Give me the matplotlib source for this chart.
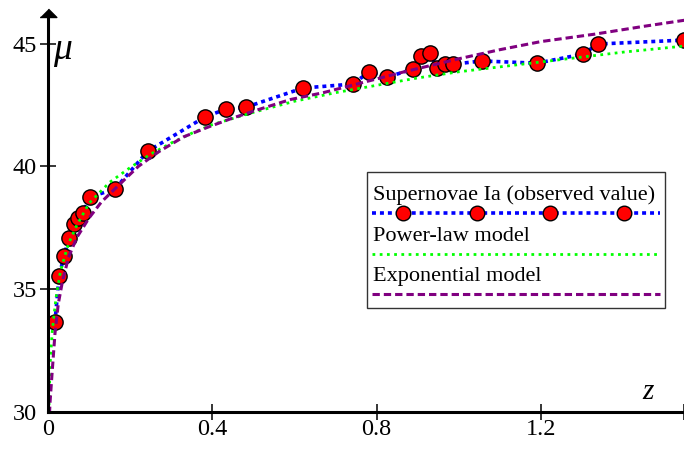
import numpy as np
from matplotlib import pyplot as plt
from matplotlib.patches import Rectangle
from matplotlib.lines import Line2D

plt.rcParams["font.family"] = ["Liberation Serif", "DejaVu Serif"]

# observed supernovae Ia (z, distance modulus)
z_obs = [0.017, 0.027, 0.039, 0.051, 0.063, 0.073, 0.085, 0.102, 0.163, 0.243,
         0.382, 0.433, 0.482, 0.621, 0.742, 0.781, 0.825, 0.889, 0.908, 0.930,
         0.947, 0.966, 0.986, 1.056, 1.190, 1.302, 1.339, 1.548]
mu_obs = [33.66, 35.54, 36.35, 37.08, 37.65, 37.90, 38.10, 38.75, 39.08, 40.62,
          42.01, 42.33, 42.41, 43.19, 43.35, 43.84, 43.63, 43.96, 44.49, 44.61,
          44.00, 44.16, 44.16, 44.29, 44.20, 44.57, 44.98, 45.14]

# power-law model curve
z_pl = [0.001, 0.005, 0.01, 0.015, 0.02, 0.03, 0.04, 0.05, 0.07, 0.1, 0.15, 0.2,
        0.25, 0.3, 0.35, 0.4, 0.5, 0.6, 0.7, 0.8, 0.9, 1.0, 1.1, 1.2, 1.3, 1.4, 1.55]
mu_pl = [29.4, 31.9, 33.2, 34.0, 34.7, 35.7, 36.3, 36.85, 37.6, 38.5, 39.35, 39.95,
         40.5, 40.95, 41.35, 41.7, 42.2, 42.65, 43.0, 43.3, 43.6, 43.85, 44.05, 44.25,
         44.45, 44.65, 44.9]

# exponential model curve
z_exp = [0.001, 0.005, 0.01, 0.017, 0.025, 0.035, 0.05, 0.07, 0.1, 0.13, 0.17, 0.22,
         0.27, 0.33, 0.39, 0.45, 0.51, 0.59, 0.67, 0.77, 0.86, 0.93, 1.0, 1.1, 1.2,
         1.33, 1.45, 1.55]
mu_exp = [29.0, 30.4, 31.6, 33.2, 34.4, 35.3, 36.3, 37.1, 37.9, 38.55, 39.2, 40.0,
          40.6, 41.2, 41.6, 41.97, 42.3, 42.72, 43.0, 43.43, 43.82, 44.1, 44.38, 44.75,
          45.08, 45.38, 45.7, 45.95]

x_ticks = [0, 0.4, 0.8, 1.2]
y_ticks = [30, 35, 40, 45]
x_max = 1.548
y_min, y_max = 30, 46.08

blue = "#0000ff"
green = "#00ff00"
purple = "#800080"

fig = plt.figure(figsize=(6.84, 4.49), dpi=100)
ax = fig.add_axes([48/684, 37/449, 636/684, 395/449])

ax.plot(z_obs, mu_obs, color=blue, lw=2.6, dashes=(1.1, 1.1))
ax.plot(z_obs, mu_obs, "o", color="red", markersize=11, markeredgecolor="black",
        markeredgewidth=1.0)
ax.plot(z_pl, mu_pl, color=green, lw=2.0, dashes=(1.0, 1.6))
ax.plot(z_exp, mu_exp, color=purple, lw=2.2, dashes=(2.4, 1.3))

ax.set_xlim(0, x_max)
ax.set_ylim(y_min, y_max)

for s in ["top", "right"]:
    ax.spines[s].set_visible(False)
for s in ["left", "bottom"]:
    ax.spines[s].set_linewidth(2.2)
    ax.spines[s].set_zorder(5)

ax.set_xticks(x_ticks + [x_max])
ax.set_xticklabels([str(t) for t in x_ticks] + [""])
ax.set_yticks(y_ticks)
ax.set_yticklabels([str(t) for t in y_ticks])
ax.tick_params(direction="inout", length=12, width=1.1, labelsize=17.5)
ax.tick_params(axis="x", pad=-1)
ax.tick_params(axis="y", pad=2)
ax.xaxis.get_major_ticks()[0].tick1line.set_visible(False)
ax.yaxis.get_major_ticks()[0].tick1line.set_visible(False)

# arrow head on y axis
ax.plot(0, 1, marker=[(-1, 0), (1, 0), (0, 1)], markersize=12, color="black",
        transform=ax.transAxes, clip_on=False, zorder=6)

fig.text(53/684, 1 - 50/449, "\u03bc", fontsize=27, va="center", ha="left",
         style="italic")
fig.text(648/684, 1 - 392/449, "z", fontsize=21, style="italic", va="center", ha="center")

# legend box
fig.patches.append(Rectangle((367/684, 1 - 308/449), 298/684, 136/449,
                             transform=fig.transFigure, fill=False,
                             edgecolor="#333333", lw=1.0))
lx0, lx1 = 372/684, 660/684
fig.text(373/684, 1 - 195/449, "Supernovae Ia (observed value)", fontsize=16, va="center")
fig.lines.append(Line2D([lx0, lx1], [1 - 213/449] * 2, transform=fig.transFigure,
                        color=blue, lw=2.6, dashes=(1.1, 1.1)))
fig.lines.append(Line2D(np.linspace(403, 624, 4) / 684, [1 - 213/449] * 4,
                        transform=fig.transFigure, ls="none", marker="o", color="red",
                        markersize=10.5, markeredgecolor="black", markeredgewidth=1.0))
fig.text(373/684, 1 - 237/449, "Power-law model", fontsize=16, va="center")
fig.lines.append(Line2D([lx0, lx1], [1 - 254/449] * 2, transform=fig.transFigure,
                        color=green, lw=2.0, dashes=(1.0, 1.6)))
fig.text(373/684, 1 - 277/449, "Exponential model", fontsize=16, va="center")
fig.lines.append(Line2D([lx0, lx1], [1 - 294/449] * 2, transform=fig.transFigure,
                        color=purple, lw=2.2, dashes=(2.4, 1.3)))

plt.savefig("out.png", dpi=100)
